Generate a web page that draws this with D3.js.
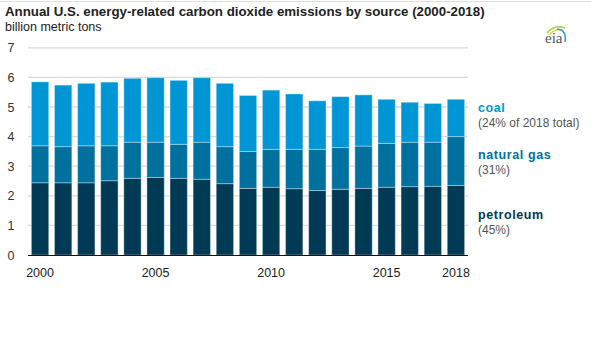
<!DOCTYPE html>
<html><head><meta charset="utf-8">
<script src="https://cdn.jsdelivr.net/npm/d3@7"></script>
<style>body{margin:0;background:#fff}svg{display:block;font-family:"Liberation Sans",Arial,sans-serif}</style>
</head><body><svg id="c" width="591" height="341"></svg>
<script>
const years = d3.range(2000, 2019).map(String);
const petroleum = [2.44,2.44,2.44,2.51,2.59,2.62,2.59,2.56,2.41,2.25,2.29,2.24,2.18,2.22,2.25,2.29,2.31,2.32,2.35];
const naturalGas = [1.25,1.22,1.25,1.18,1.22,1.19,1.15,1.25,1.25,1.25,1.28,1.33,1.39,1.41,1.43,1.48,1.50,1.49,1.65];
const coal = [2.16,2.08,2.11,2.15,2.16,2.18,2.16,2.18,2.14,1.89,2.00,1.87,1.64,1.72,1.73,1.49,1.35,1.31,1.26];
const yTicks = [0,1,2,3,4,5,6,7];
const xTickLabels = ["2000","2005","2010","2015","2018"];
const seriesNames = ["petroleum","naturalGas","coal"];
const colors = {petroleum:"#003a55", naturalGas:"#00709e", coal:"#0096d6"};
const legendNames = ["coal","natural gas","petroleum"];
const legendSubs = ["(24% of 2018 total)","(31%)","(45%)"];

const svg = d3.select("#c");
svg.append("line").attr("x1",0).attr("x2",591).attr("y1",1.5).attr("y2",1.5).attr("stroke","#e0e0e0").attr("stroke-width",1);
svg.append("text").attr("x",5).attr("y",16).attr("font-size",13.3).attr("font-weight","bold").attr("fill","#222").text("Annual U.S. energy-related carbon dioxide emissions by source (2000-2018)");
svg.append("text").attr("x",5).attr("y",31).attr("font-size",12.5).attr("fill","#222").text("billion metric tons");

const x = d3.scaleBand().domain(years).range([28.5,467.5]).paddingInner(0.25).paddingOuter(0.125);
const y = d3.scaleLinear().domain([0,7]).range([255,47.8]);

const g = svg.append("g");
g.selectAll("line.grid").data(yTicks.filter(d=>d>0)).join("line").attr("class","grid")
  .attr("x1",28).attr("x2",468).attr("y1",d=>y(d)).attr("y2",d=>y(d))
  .attr("stroke","#dadada").attr("stroke-width",1.3);
g.selectAll("text.yt").data(yTicks).join("text").attr("class","yt")
  .attr("x",11).attr("y",d=>y(d)+4.5).attr("text-anchor","middle").attr("font-size",12.5).attr("fill","#333").text(d=>d);

const table = years.map((yr,i)=>({year:yr, petroleum:petroleum[i], naturalGas:naturalGas[i], coal:coal[i]}));
const stack = d3.stack().keys(seriesNames)(table);
g.selectAll("g.s").data(stack).join("g").attr("class","s").attr("fill",d=>colors[d.key])
  .selectAll("rect").data(d=>d).join("rect")
  .attr("x",d=>x(d.data.year)).attr("width",x.bandwidth())
  .attr("y",d=>y(d[1])).attr("height",d=>y(d[0])-y(d[1]))
  .attr("stroke","rgba(255,255,255,0.35)").attr("stroke-width",1);

g.append("line").attr("x1",28).attr("x2",468).attr("y1",255.5).attr("y2",255.5).attr("stroke","#111").attr("stroke-width",1.2);
g.selectAll("text.xt").data(xTickLabels).join("text").attr("class","xt")
  .attr("x",d=>x(d)+x.bandwidth()/2).attr("y",277).attr("text-anchor","middle").attr("font-size",12.5).attr("fill","#222").text(d=>d);

// legend
const legColors = [colors.coal, colors.naturalGas, colors.petroleum];
const legY = [112, 159, 219];
legendNames.forEach((n,i)=>{
  svg.append("text").attr("x",478).attr("y",legY[i]).attr("font-size",12.5).attr("font-weight","bold").attr("letter-spacing",0.6).attr("fill",legColors[i]).text(n);
  svg.append("text").attr("x",478).attr("y",legY[i]+15).attr("font-size",12).attr("fill","#555").text(legendSubs[i]);
});

// eia logo
const lg = svg.append("g").attr("transform","translate(543,24)");
lg.append("path").attr("d","M4,9 Q12,0 22,4").attr("fill","none").attr("stroke","#9bd23c").attr("stroke-width",1.5);
lg.append("path").attr("d","M6,11 Q13,3 21,7").attr("fill","none").attr("stroke","#f2c81e").attr("stroke-width",1.3);
lg.append("path").attr("d","M14,5 Q24,6 22,18").attr("fill","none").attr("stroke","#2a9bd8").attr("stroke-width",1.5);
lg.append("text").attr("x",2).attr("y",19).attr("font-family","Liberation Serif, serif").attr("font-size",15).attr("fill","#555").text("eia");
</script></body></html>
